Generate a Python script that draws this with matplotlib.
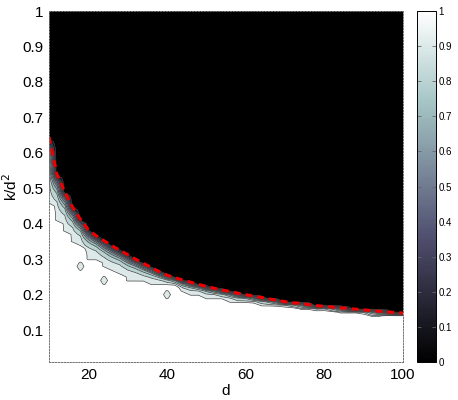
import numpy as np
import matplotlib
matplotlib.use("Agg")
import matplotlib.pyplot as plt
from matplotlib import cm
from matplotlib.colors import Normalize

plt.rcParams["font.family"] = ["Liberation Sans", "DejaVu Sans"]

# -----------------------------
# Data
# -----------------------------
d_vals = np.arange(10, 101, 2)
y_vals = np.round(np.arange(0.01, 1.001, 0.01), 3)

# dashed red threshold curve (also where the field reaches 0)
red_curve = [0.645, 0.540, 0.490, 0.447, 0.412, 0.383, 0.366, 0.352, 0.338, 0.325,
             0.313, 0.300, 0.288, 0.277, 0.265, 0.255, 0.248, 0.241, 0.235, 0.229,
             0.223, 0.218, 0.213, 0.209, 0.204, 0.200, 0.196, 0.192, 0.188, 0.184,
             0.180, 0.177, 0.175, 0.172, 0.169, 0.167, 0.165, 0.163, 0.161, 0.159,
             0.157, 0.155, 0.153, 0.151, 0.150, 0.148]

# lower edge of the transition band (field = 1 below it)
lower_edge = [0.460, 0.410, 0.380, 0.350, 0.335, 0.300, 0.295, 0.275, 0.262, 0.258,
              0.240, 0.238, 0.232, 0.228, 0.226, 0.225, 0.222, 0.205, 0.198, 0.198,
              0.190, 0.188, 0.186, 0.178, 0.172, 0.175, 0.172, 0.168, 0.166, 0.165,
              0.163, 0.162, 0.158, 0.158, 0.153, 0.155, 0.152, 0.150, 0.148, 0.149,
              0.145, 0.140, 0.139, 0.142, 0.143, 0.144]

# isolated cells in the white area
island_d = [18, 24, 40]
island_y = [0.28, 0.24, 0.20]
island_val = 0.91
island_rim = 0.94

# -----------------------------
# Field
# -----------------------------
U = np.array(red_curve)[None, :]
L = np.array(lower_edge)[None, :]
Y = y_vals[:, None]
t = np.clip((Y - L) / (U - L), 0, 1)
Z = np.where(Y < L, 1.0, 0.94 * (1 - t ** 3.5))
for dd, yy in zip(island_d, island_y):
    i = np.argmin(np.abs(y_vals - yy))
    j = np.argmin(np.abs(d_vals - dd))
    Z[i, j] = island_val
    Z[i - 1, j] = island_rim
    Z[i + 1, j] = island_rim

# -----------------------------
# Figure
# -----------------------------
fig = plt.figure(figsize=(4.58, 4.00), dpi=100)
ax = fig.add_axes([0.107, 0.095, 0.773, 0.8775])
cax = fig.add_axes([0.911, 0.095, 0.040, 0.8775])

bone = matplotlib.colormaps["bone"]
levels = [0, 0.1, 0.2, 0.3, 0.4, 0.5, 0.6, 0.7, 0.8, 0.9, 0.95, 1.0]
fill_cols = [bone(l) for l in levels[:-2]] + ["white"]

ax.contourf(d_vals, y_vals, Z, levels=levels, colors=fill_cols)
ax.contour(d_vals, y_vals, Z, levels=levels[1:-1], colors="0.25", linewidths=0.5)

ax.plot(d_vals, red_curve, color="#ee0000", lw=2.2, linestyle=(0, (2.3, 1.6)))

ax.set_xlim(10, 100)
ax.set_ylim(0.01, 1)
ax.set_xticks([20, 40, 60, 80, 100])
ax.set_yticks(np.arange(0.1, 1.01, 0.1))
ax.set_yticklabels(["0.1", "0.2", "0.3", "0.4", "0.5", "0.6", "0.7", "0.8", "0.9", "1"])
ax.tick_params(length=0, labelsize=11, pad=4)
for s in ax.spines.values():
    s.set_linestyle((0, (1.5, 1.5)))
    s.set_color("0.45")
    s.set_linewidth(0.7)

ax.set_xlabel("d", fontsize=11, labelpad=2)
ax.set_ylabel(r"k/d$^2$", fontsize=11, labelpad=2)

# colorbar
cb = fig.colorbar(cm.ScalarMappable(norm=Normalize(0, 1), cmap=bone), cax=cax,
                  ticks=np.arange(0, 1.01, 0.1))
cb.ax.set_yticklabels(["0", "0.1", "0.2", "0.3", "0.4", "0.5", "0.6", "0.7", "0.8", "0.9", "1"])
cb.ax.tick_params(direction="in", length=3, left=True, right=True, labelsize=7,
                  width=0.6, color="0.4", pad=2)
cb.outline.set_linewidth(0.7)

plt.savefig("out.png", dpi=100, facecolor="white")
plt.close(fig)
